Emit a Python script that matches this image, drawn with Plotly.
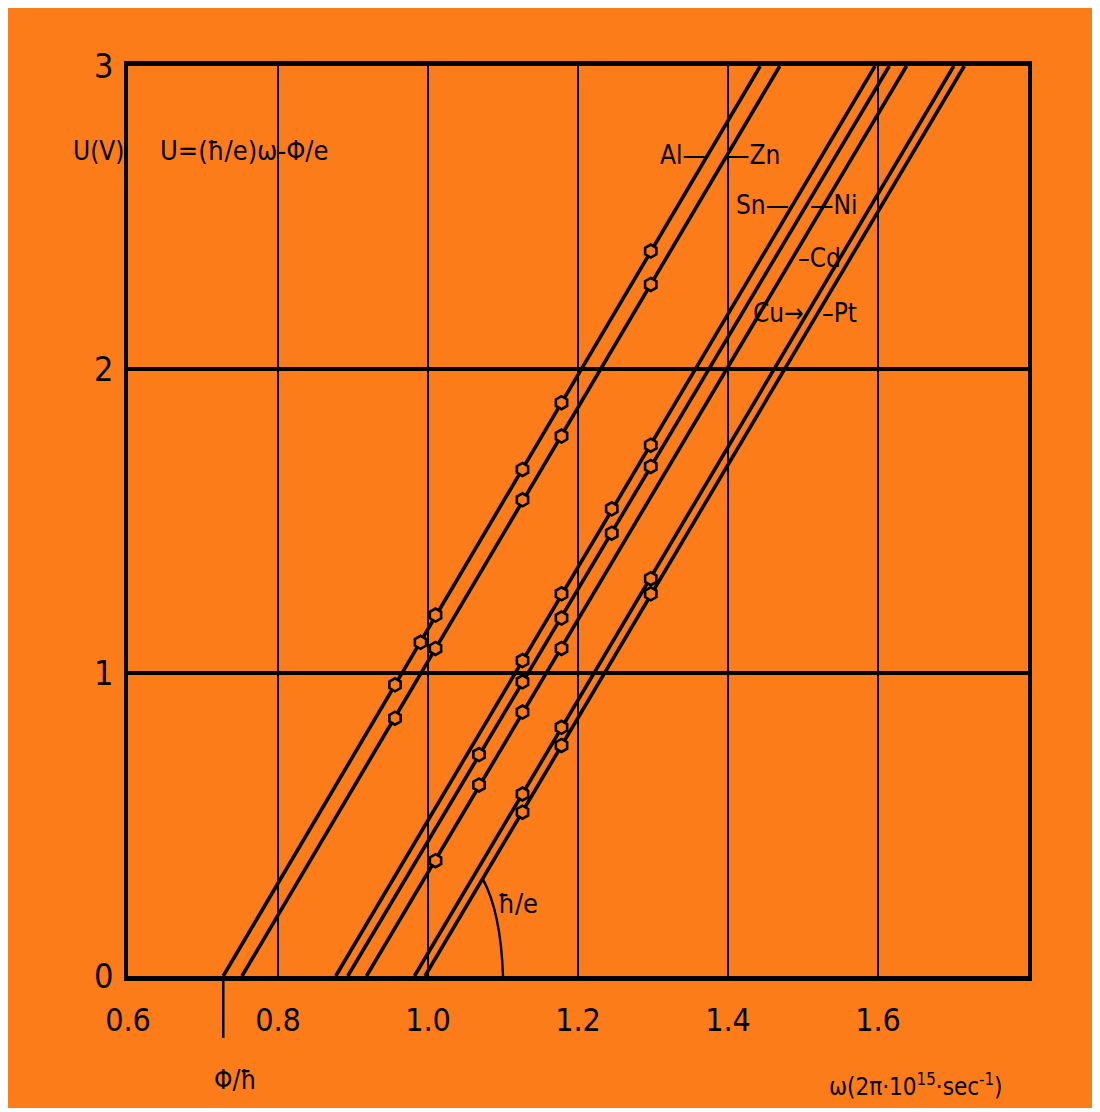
import plotly.graph_objects as go

# ---------------- data ----------------
metals = ["Al", "Zn", "Sn", "Ni", "Cd", "Cu", "Pt"]
omega_at_U0 = [0.727, 0.752, 0.877, 0.893, 0.918, 0.982, 0.996]   # threshold ω (U = 0)
omega_at_U3 = [1.443, 1.469, 1.596, 1.615, 1.638, 1.701, 1.715]   # ω where the line reaches U = 3
line_U = [0.0, 3.0]

al_w = [0.956, 0.990, 1.010, 1.126, 1.178, 1.297]
al_u = [0.96, 1.10, 1.19, 1.67, 1.89, 2.39]
zn_w = [0.956, 1.010, 1.126, 1.178, 1.297]
zn_u = [0.85, 1.08, 1.57, 1.78, 2.28]
sn_w = [1.126, 1.178, 1.245, 1.297]
sn_u = [1.04, 1.26, 1.54, 1.75]
ni_w = [1.068, 1.126, 1.178, 1.245, 1.297]
ni_u = [0.73, 0.97, 1.18, 1.46, 1.68]
cd_w = [1.010, 1.068, 1.126, 1.178]
cd_u = [0.38, 0.63, 0.87, 1.08]
cu_w = [1.126, 1.178, 1.297]
cu_u = [0.60, 0.82, 1.31]
pt_w = [1.126, 1.178, 1.297]
pt_u = [0.54, 0.76, 1.26]

points = {"Al": (al_w, al_u), "Zn": (zn_w, zn_u), "Sn": (sn_w, sn_u),
          "Ni": (ni_w, ni_u), "Cd": (cd_w, cd_u), "Cu": (cu_w, cu_u),
          "Pt": (pt_w, pt_u)}

x_tickvals = [0.6, 0.8, 1.0, 1.2, 1.4, 1.6]
x_ticktext = ["0.6", "0.8", "1.0", "1.2", "1.4", "1.6"]
y_tickvals = [0, 1, 2, 3]
y_ticktext = ["0", "1", "2", "3"]

# ---------------- styling ----------------
ORANGE = "#fd7c1a"
INK = "#000000"
FONT = "DejaVu Sans Condensed, Liberation Sans Narrow, Roboto Condensed, DejaVu Sans, sans-serif"

fig = go.Figure()

for i, m in enumerate(metals):
    fig.add_trace(go.Scatter(
        x=[omega_at_U0[i], omega_at_U3[i]], y=line_U, mode="lines",
        line=dict(color=INK, width=3.6), name=m, showlegend=False,
        hoverinfo="skip"))

for m in metals:
    w, u = points[m]
    fig.add_trace(go.Scatter(
        x=w, y=u, mode="markers", name=m + " data", showlegend=False,
        marker=dict(symbol="hexagon", size=13, color=ORANGE,
                    line=dict(color=INK, width=2.6))))

fig.update_layout(
    width=1100, height=1112,
    margin=dict(l=120, r=80, t=58, b=144),
    paper_bgcolor="white",
    plot_bgcolor=ORANGE,
    font=dict(family=FONT, color=INK, size=26),
    xaxis=dict(range=[0.6, 1.8], tickvals=x_tickvals, ticktext=x_ticktext,
               showgrid=True, gridcolor=INK, gridwidth=2,
               showline=True, linecolor=INK, linewidth=5, mirror=True,
               zeroline=False, ticks="", ticklabelstandoff=12,
               tickfont=dict(size=32, family=FONT, color=INK)),
    yaxis=dict(range=[0, 3], tickvals=y_tickvals, ticktext=y_ticktext,
               showgrid=True, gridcolor=INK, gridwidth=3.5,
               showline=True, linecolor=INK, linewidth=3.5, mirror=True,
               zeroline=False, ticks="", ticklabelstandoff=4,
               tickfont=dict(size=34, family=FONT, color=INK)),
)

# orange page with thin white rim on the right and bottom (like the scan)
fig.add_shape(type="rect", xref="paper", yref="paper",
              x0=-0.2, x1=1.074, y0=-0.145, y1=1.2,
              fillcolor=ORANGE, line=dict(width=0), layer="below")

# Φ/ħ tick below the axis at the Al threshold
fig.add_shape(type="line", xref="x", yref="paper",
              x0=omega_at_U0[0], x1=omega_at_U0[0], y0=0, y1=-0.068,
              line=dict(color=INK, width=2.5))

# ħ/e angle arc
fig.add_shape(type="path", xref="x", yref="y",
              path="M 1.073 0.32 Q 1.097 0.21 1.100 0.0",
              line=dict(color=INK, width=2.4))

def ann(x, y, text, xanchor="center", size=26, xref="x", yref="y"):
    fig.add_annotation(x=x, y=y, xref=xref, yref=yref, text=text,
                       showarrow=False, xanchor=xanchor, yanchor="middle",
                       font=dict(family=FONT, size=size, color=INK))

ann(1.373, 2.707, "Al—", xanchor="right")
ann(1.395, 2.707, "—Zn", xanchor="left")
ann(1.484, 2.542, "Sn—", xanchor="right")
ann(1.507, 2.542, "—Ni", xanchor="left")
ann(1.490, 2.367, "–Cd", xanchor="left")
ann(1.504, 2.186, "Cu→", xanchor="right")
ann(1.522, 2.186, "–Pt", xanchor="left")
ann(1.120, 0.24, "ħ/e", size=27)

ann(0.033, 0.907, "U=(ħ/e)ω-Φ/e", xanchor="left", size=27, xref="paper", yref="paper")
ann(-0.002, 0.907, "U(V)", xanchor="right", size=26, xref="paper", yref="paper")
ann(0.119, -0.114, "Φ/ħ", size=26, xref="paper", yref="paper")
ann(0.875, -0.120, "ω(2π·10<sup>15</sup>·sec<sup>-1</sup>)", size=24,
    xref="paper", yref="paper")

fig.write_html("out.html")
